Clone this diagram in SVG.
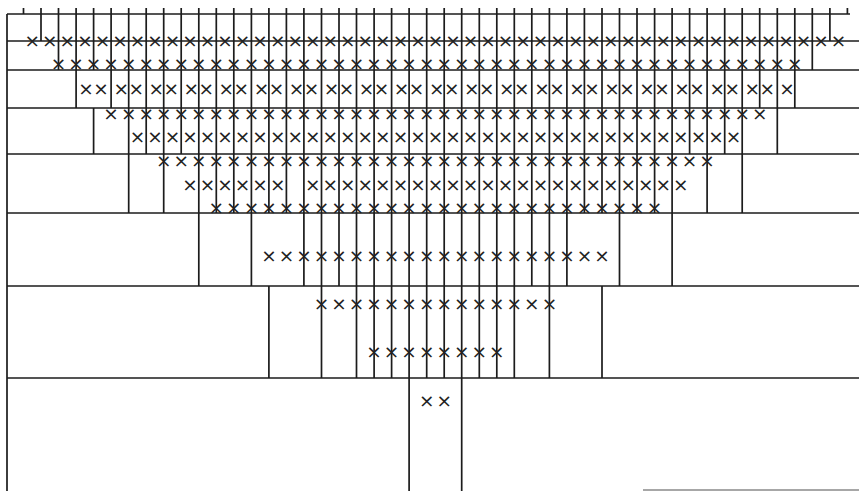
<svg xmlns="http://www.w3.org/2000/svg" width="859" height="491" viewBox="0 0 859 491">
<style>
.ln{fill:none;stroke:#1c1c1c;stroke-width:1.7}
.lt{fill:none;stroke:#8a8a8a;stroke-width:1.6}
.x{font-family:"DejaVu Sans",sans-serif;font-size:18.5px;fill:#222;text-anchor:middle}
</style>
<rect width="859" height="491" fill="#fff"/>
<g id="frame">
<path class="ln" d="M7 14H850M7 41H859M7 70H859M7 108H859M7 154H859M7 213H859M7 286H859M7 378H859M7 14V491"/>
<path class="lt" d="M643 490H859"/>
</g>
<g id="connectors">
<path class="ln" d="M23.5 8V14M41 8V41M58.5 8V70M76.1 8V108M93.6 8V70M93.6 108V154M111.1 8V108M128.7 8V213M146.2 8V154M163.7 8V213M181.2 8V154M198.8 8V286M216.3 8V213M233.8 8V213M251.4 8V286M268.9 8V213M268.9 286V378M286.4 8V213M303.9 8V286M321.5 8V378M339 8V286M356.5 8V378M374.1 8V378M391.6 8V378M409.1 8V491M426.7 8V378M444.2 8V378M461.7 8V491M479.3 8V378M496.8 8V378M514.3 8V378M531.8 8V286M549.4 8V378M566.9 8V286M584.4 8V213M602 8V213M602 286V378M619.5 8V286M637 8V213M654.6 8V213M672.1 8V286M689.6 8V154M707.1 8V213M724.7 8V154M742.2 8V213M759.7 8V108M777.3 8V154M794.8 8V108M812.3 8V70M829.9 8V41M847.4 8V14"/>
</g>
<g id="row1"><text class="x" y="46.5" x="32.2 49.8 67.3 84.9 102.4 119.9 137.4 155.0 172.5 190.0 207.5 225.1 242.6 260.1 277.7 295.2 312.7 330.2 347.8 365.3 382.8 400.4 417.9 435.4 453.0 470.5 488.0 505.5 523.1 540.6 558.1 575.7 593.2 610.7 628.3 645.8 663.3 680.8 698.4 715.9 733.4 751.0 768.5 786.0 803.6 821.1 838.6">×××××××××××××××××××××××××××××××××××××××××××××××</text></g>
<g id="row2"><text class="x" y="69.5" x="58.5 76.1 93.6 111.1 128.7 146.2 163.7 181.2 198.8 216.3 233.8 251.4 268.9 286.4 303.9 321.5 339.0 356.5 374.1 391.6 409.1 426.7 444.2 461.7 479.3 496.8 514.3 531.8 549.4 566.9 584.4 602.0 619.5 637.0 654.6 672.1 689.6 707.1 724.7 742.2 759.7 777.3 794.8">×××××××××××××××××××××××××××××××××××××××××××</text></g>
<g id="row3"><text class="x" y="94.5" x="86.1 101.1 121.2 136.2 156.2 171.2 191.3 206.3 226.3 241.3 261.4 276.4 296.4 311.4 331.5 346.5 366.6 381.6 401.6 416.6 436.7 451.7 471.8 486.8 506.8 521.8 541.9 556.9 576.9 591.9 612.0 627.0 647.1 662.1 682.1 697.1 717.2 732.2 752.2 767.2 787.0">×××××××××××××××××××××××××××××××××××××××××</text></g>
<g id="row4">
<text class="x" y="119.5" x="111.1 128.7 146.2 163.7 181.2 198.8 216.3 233.8 251.4 268.9 286.4 303.9 321.5 339.0 356.5 374.1 391.6 409.1 426.7 444.2 461.7 479.3 496.8 514.3 531.8 549.4 566.9 584.4 602.0 619.5 637.0 654.6 672.1 689.6 707.1 724.7 742.2 759.7">××××××××××××××××××××××××××××××××××××××</text>
<text class="x" y="142.5" x="137.4 155.0 172.5 190.0 207.5 225.1 242.6 260.1 277.7 295.2 312.7 330.2 347.8 365.3 382.8 400.4 417.9 435.4 453.0 470.5 488.0 505.5 523.1 540.6 558.1 575.7 593.2 610.7 628.3 645.8 663.3 680.8 698.4 715.9 733.4">×××××××××××××××××××××××××××××××××××</text>
</g>
<g id="row5">
<text class="x" y="166.5" x="163.7 181.2 198.8 216.3 233.8 251.4 268.9 286.4 303.9 321.5 339.0 356.5 374.1 391.6 409.1 426.7 444.2 461.7 479.3 496.8 514.3 531.8 549.4 566.9 584.4 602.0 619.5 637.0 654.6 672.1 689.6 707.1">××××××××××××××××××××××××××××××××</text>
<text class="x" y="190.5" x="190.0 207.5 225.1 242.6 260.1 277.7 312.7 330.2 347.8 365.3 382.8 400.4 417.9 435.4 453.0 470.5 488.0 505.5 523.1 540.6 558.1 575.7 593.2 610.7 628.3 645.8 663.3 680.8">××××××××××××××××××××××××××××</text>
<text class="x" y="213.5" x="216.3 233.8 251.4 268.9 286.4 303.9 321.5 339.0 356.5 374.1 391.6 409.1 426.7 444.2 461.7 479.3 496.8 514.3 531.8 549.4 566.9 584.4 602.0 619.5 637.0 654.6">××××××××××××××××××××××××××</text>
</g>
<g id="row6"><text class="x" y="261.5" x="268.9 286.4 303.9 321.5 339.0 356.5 374.1 391.6 409.1 426.7 444.2 461.7 479.3 496.8 514.3 531.8 549.4 566.9 584.4 602.0">××××××××××××××××××××</text></g>
<g id="row7">
<text class="x" y="309.5" x="321.5 339.0 356.5 374.1 391.6 409.1 426.7 444.2 461.7 479.3 496.8 514.3 531.8 549.4">××××××××××××××</text>
<text class="x" y="357.5" x="374.1 391.6 409.1 426.7 444.2 461.7 479.3 496.8">××××××××</text>
</g>
<g id="row8"><text class="x" y="406.5" x="426.7 444.2">××</text></g>
</svg>
